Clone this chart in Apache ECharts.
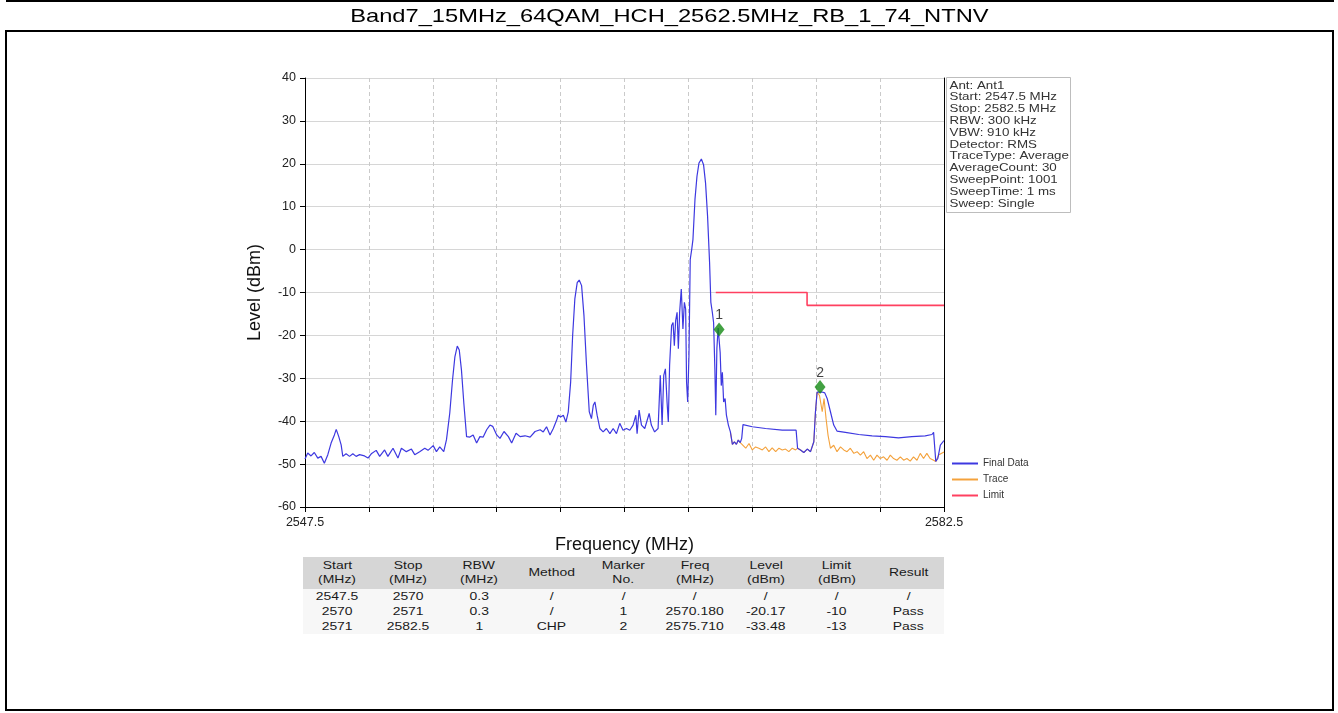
<!DOCTYPE html>
<html>
<head>
<meta charset="utf-8">
<script src="https://cdn.jsdelivr.net/npm/echarts@6/dist/echarts.min.js"></script>
<style>
  html,body{margin:0;padding:0;background:#fff;width:1338px;height:713px;overflow:hidden;font-family:"Liberation Sans",Arial,sans-serif;}
  #chart{position:absolute;left:0;top:0;width:1338px;height:713px;z-index:0;}
  .ln{position:absolute;background:#000;z-index:2;}
  #title{position:absolute;left:0;top:5px;width:1338px;text-align:center;font-size:18.5px;color:#000;z-index:2;line-height:22px;}
  #title span{display:inline-block;transform:scaleX(1.28);transform-origin:center;}
  #tbl{position:absolute;left:303px;top:557px;width:641px;z-index:2;color:#1a1a1a;font-size:11.8px;}
  #tbl .row{position:relative;width:641px;}
  #tbl .cell{position:absolute;top:0;text-align:center;white-space:nowrap;}
  #tbl .cell span{display:inline-block;transform:scaleX(1.18);transform-origin:center;}
</style>
</head>
<body>
<div id="chart"></div>
<div class="ln" style="left:6px;top:0px;width:1328px;height:2px;"></div>
<div class="ln" style="left:6px;top:30px;width:1328px;height:1.5px;"></div>
<div class="ln" style="left:5px;top:30px;width:2px;height:681px;"></div>
<div class="ln" style="left:1332px;top:30px;width:2px;height:681px;"></div>
<div class="ln" style="left:5px;top:709px;width:1329px;height:2px;"></div>
<div id="title"><span>Band7_15MHz_64QAM_HCH_2562.5MHz_RB_1_74_NTNV</span></div>
<div id="tbl"></div>
<script>
// ---------- data ----------
const finalFreq = [
2547.50,2547.65,2547.83,2548.01,2548.20,2548.38,2548.56,2548.75,2548.93,2549.11,
2549.21,2549.35,2549.48,2549.57,2549.75,2549.94,2550.12,2550.30,2550.49,2550.76,
2550.95,2551.13,2551.40,2551.59,2551.86,2552.04,2552.32,2552.59,2552.78,2553.05,
2553.33,2553.51,2553.78,2554.06,2554.24,2554.52,2554.70,2554.88,2555.10,2555.25,
2555.43,2555.58,2555.71,2555.84,2555.95,2556.07,2556.20,2556.35,2556.53,2556.71,
2556.90,2557.08,2557.26,2557.45,2557.63,2557.78,2558.00,2558.18,2558.40,2558.64,
2558.82,2559.06,2559.28,2559.55,2559.83,2560.10,2560.38,2560.55,2560.73,2560.92,
2561.10,2561.28,2561.37,2561.50,2561.65,2561.79,2561.92,2562.05,2562.16,2562.28,
2562.41,2562.52,2562.65,2562.78,2562.92,2563.07,2563.19,2563.29,2563.38,2563.50,
2563.65,2563.83,2564.01,2564.20,2564.38,2564.56,2564.74,2564.92,2565.11,2565.29,
2565.47,2565.62,2565.69,2565.80,2565.93,2566.11,2566.35,2566.47,2566.65,2566.84,
2566.96,2567.06,2567.15,2567.24,2567.33,2567.40,2567.47,2567.58,2567.66,2567.73,
2567.80,2567.88,2567.95,2568.02,2568.11,2568.20,2568.28,2568.35,2568.40,2568.46,
2568.53,2568.60,2568.68,2568.75,2568.86,2568.97,2569.08,2569.21,2569.33,2569.44,
2569.55,2569.66,2569.73,2569.81,2569.88,2569.95,2570.00,2570.06,2570.13,2570.18,
2570.24,2570.30,2570.36,2570.43,2570.51,2570.58,2570.69,2570.80,2570.91,2571.02,
2571.13,2571.23,2571.34,2571.42,2571.49,2572.00,2572.73,2573.64,2574.40,2574.48,
2574.64,2574.82,2575.01,2575.19,2575.37,2575.46,2575.55,2575.64,2575.83,2575.97,
2576.10,2576.28,2576.46,2576.64,2577.10,2577.83,2578.56,2579.29,2580.01,2580.74,
2581.47,2581.84,2581.93,2582.05,2582.16,2582.30,2582.50
];
const finalLevel = [
-48.8,-47.4,-48.1,-47.3,-48.6,-48.2,-49.8,-47.8,-45.1,-43.2,
-41.9,-43.6,-45.5,-48.2,-47.6,-48.2,-47.6,-48.2,-47.8,-48.1,
-48.6,-47.6,-46.8,-48.2,-46.7,-48.2,-46.3,-48.6,-46.3,-47.1,
-46.5,-47.8,-47.1,-46.3,-46.8,-45.7,-47.1,-46.0,-47.1,-44.3,
-38.1,-30.4,-25.0,-22.5,-23.4,-28.1,-35.8,-43.6,-43.7,-43.2,
-45.1,-43.6,-43.7,-42.0,-40.9,-41.2,-43.2,-44.0,-42.4,-43.6,
-45.1,-42.8,-43.6,-43.4,-43.7,-42.4,-42.0,-42.5,-41.3,-43.2,
-41.7,-39.8,-38.6,-39.0,-38.6,-40.2,-37.8,-30.9,-20.0,-11.5,
-7.7,-7.1,-8.4,-15.4,-27.0,-37.8,-39.4,-36.3,-35.5,-38.6,
-41.7,-42.5,-41.7,-42.9,-41.7,-42.9,-40.5,-42.1,-41.7,-42.1,
-40.9,-38.6,-42.9,-37.4,-40.9,-41.7,-38.2,-40.9,-42.5,-41.7,
-29.3,-40.9,-29.3,-27.8,-35.5,-40.2,-27.0,-17.7,-17.0,-22.4,
-16.6,-14.6,-23.1,-14.6,-9.2,-18.5,-12.3,-13.9,-30.9,-35.5,
-24.7,-2.3,0.0,2.4,11.7,17.1,20.2,21.1,19.8,15.5,
7.8,-3.0,-12.3,-14.6,-17.0,-27.8,-38.6,-23.0,-18.3,-18.6,
-24.0,-31.7,-28.6,-35.5,-34.7,-38.5,-40.9,-42.5,-45.4,-44.8,
-45.4,-44.4,-45.0,-44.0,-40.8,-41.3,-41.7,-42.1,-42.1,-46.3,
-46.7,-47.3,-46.5,-47.1,-44.8,-37.8,-33.2,-33.2,-33.2,-33.4,
-34.7,-37.8,-40.9,-42.3,-42.6,-43.1,-43.4,-43.6,-43.9,-43.6,
-43.4,-43.1,-42.6,-49.4,-48.7,-45.6,-44.5
];
const traceFreq = [
2570.80,2570.91,2571.02,2571.13,2571.23,2571.34,2571.42,2571.64,2571.82,2572.00,
2572.18,2572.36,2572.55,2572.73,2572.91,2573.09,2573.28,2573.46,2573.64,2573.82,
2574.00,2574.19,2574.37,2574.48,2574.64,2574.82,2575.01,2575.19,2575.37,2575.46,
2575.55,2575.68,2575.83,2575.93,2576.04,2576.15,2576.28,2576.46,2576.64,2576.83,
2577.01,2577.19,2577.37,2577.56,2577.74,2577.92,2578.10,2578.28,2578.47,2578.65,
2578.83,2579.01,2579.19,2579.38,2579.56,2579.74,2579.92,2580.11,2580.29,2580.47,
2580.65,2580.83,2581.02,2581.20,2581.38,2581.56,2581.74,2581.93,2582.05,2582.20,
2582.50
];
const traceLevel = [
-42.5,-45.4,-44.8,-45.4,-44.4,-45.0,-44.8,-46.3,-45.2,-46.7,
-46.0,-46.3,-46.7,-46.0,-47.1,-46.2,-47.1,-46.3,-46.7,-46.5,
-47.1,-46.3,-46.7,-46.3,-46.7,-47.3,-46.5,-47.1,-44.8,-37.8,
-33.2,-34.0,-37.8,-34.7,-39.4,-43.3,-46.3,-45.6,-47.1,-46.0,
-46.7,-47.1,-46.3,-47.5,-47.1,-47.9,-47.1,-48.7,-47.9,-49.1,
-47.9,-48.7,-48.3,-49.1,-47.9,-48.7,-49.1,-48.3,-49.1,-48.7,
-49.3,-48.3,-49.1,-47.5,-48.7,-47.5,-48.7,-49.1,-49.4,-47.9,
-47.2
];
const limitFreq = [2570.0, 2575.0, 2575.0, 2582.5];
const limitLevel = [-10, -10, -13, -13];
const markerFreq = [2570.18, 2575.71];
const markerLevel = [-18.6, -32.0];
const markerLabel = ['1', '2'];
const xTickValues = [2547.5, 2551, 2554.5, 2558, 2561.5, 2565, 2568.5, 2572, 2575.5, 2579, 2582.5];
const xLabelValues = [2547.5, 2582.5];
const yTickValues = [-60, -50, -40, -30, -20, -10, 0, 10, 20, 30, 40];
const infoLines = ['Ant: Ant1','Start: 2547.5 MHz','Stop: 2582.5 MHz','RBW: 300 kHz','VBW: 910 kHz','Detector: RMS','TraceType: Average','AverageCount: 30','SweepPoint: 1001','SweepTime: 1 ms','Sweep: Single'];
const tableHeader = [['Start','(MHz)'],['Stop','(MHz)'],['RBW','(MHz)'],['Method'],['Marker','No.'],['Freq','(MHz)'],['Level','(dBm)'],['Limit','(dBm)'],['Result']];
const tableRows = [
  ['2547.5','2570','0.3','/','/','/','/','/','/'],
  ['2570','2571','0.3','/','1','2570.180','-20.17','-10','Pass'],
  ['2571','2582.5','1','CHP','2','2575.710','-33.48','-13','Pass']
];

// ---------- table (HTML) ----------
const colW = [69, 71.5, 71, 73.5, 71, 71.5, 70.5, 71.5, 71.5];
(function buildTable(){
  const tbl = document.getElementById('tbl');
  const head = document.createElement('div');
  head.className = 'row';
  head.style.height = '32px';
  head.style.background = '#d6d6d6';
  let x = 0;
  tableHeader.forEach((h, i) => {
    const c = document.createElement('div');
    c.className = 'cell';
    c.style.left = x + 'px';
    c.style.width = colW[i] + 'px';
    c.style.lineHeight = '14px';
    c.style.top = (h.length === 2 ? 1 : 8) + 'px';
    c.innerHTML = h.map(t => '<span>' + t + '</span>').join('<br>');
    head.appendChild(c);
    x += colW[i];
  });
  tbl.appendChild(head);
  tableRows.forEach(r => {
    const row = document.createElement('div');
    row.className = 'row';
    row.style.height = '15px';
    row.style.background = '#f7f7f7';
    let xx = 0;
    r.forEach((t, i) => {
      const c = document.createElement('div');
      c.className = 'cell';
      c.style.left = xx + 'px';
      c.style.width = colW[i] + 'px';
      c.style.lineHeight = '14px';
      c.innerHTML = '<span>' + t + '</span>';
      row.appendChild(c);
      xx += colW[i];
    });
    tbl.appendChild(row);
  });
})();

// ---------- chart ----------
const zip = (a, b) => a.map((v, i) => [v, b[i]]);
const chart = echarts.init(document.getElementById('chart'), null, {renderer: 'canvas'});
const FONT = '"Liberation Sans", Arial, sans-serif';
chart.setOption({
  animation: false,
  backgroundColor: 'transparent',
  textStyle: {fontFamily: FONT},
  grid: {left: 305, right: 394, top: 78, bottom: 206, containLabel: false},
  legend: {
    data: ['Final Data', 'Trace', 'Limit'],
    orient: 'vertical',
    left: 952, top: 458,
    itemWidth: 26, itemHeight: 2, itemGap: 5,
    icon: 'rect',
    textStyle: {fontSize: 10, color: '#333', lineHeight: 11, fontFamily: FONT},
    padding: 0
  },
  xAxis: {
    type: 'value', min: 2547.5, max: 2582.5,
    name: 'Frequency (MHz)', nameLocation: 'middle', nameGap: 29,
    nameTextStyle: {fontSize: 18, color: '#111', fontFamily: FONT},
    axisLine: {onZero: false, lineStyle: {color: '#000', width: 1}},
    axisTick: {show: true, inside: false, length: 5, customValues: xTickValues, lineStyle: {color: '#000'}},
    axisLabel: {customValues: xLabelValues, fontSize: 12.5, color: '#222', margin: 9, fontFamily: FONT,
      formatter: v => String(v)},
    splitLine: {show: true, lineStyle: {color: '#cacaca', type: [4, 3], width: 1}}
  },
  yAxis: [{
    type: 'value', min: -60, max: 40, interval: 10,
    name: 'Level (dBm)', nameLocation: 'middle', nameGap: 41, nameRotate: 90,
    nameTextStyle: {fontSize: 18, color: '#111', fontFamily: FONT},
    axisLine: {show: true, onZero: false, lineStyle: {color: '#000', width: 1}},
    axisTick: {show: true, inside: false, length: 5, lineStyle: {color: '#000'}},
    axisLabel: {fontSize: 12.5, color: '#222', margin: 9, fontFamily: FONT},
    splitLine: {show: true, lineStyle: {color: '#d6d6d6', type: 'solid', width: 1}}
  }, {
    type: 'value', min: -60, max: 40, interval: 10, position: 'right',
    axisLine: {show: true, onZero: false, lineStyle: {color: '#000', width: 1}},
    axisTick: {show: false}, axisLabel: {show: false}, splitLine: {show: false}
  }],
  series: [
    {name: 'Trace', type: 'line', data: zip(traceFreq, traceLevel), showSymbol: false,
     lineStyle: {color: '#f4a23c', width: 1.1}, itemStyle: {color: '#f4a23c'}, z: 2},
    {name: 'Final Data', type: 'line', data: zip(finalFreq, finalLevel), showSymbol: false,
     lineStyle: {color: '#3d38e0', width: 1.2}, itemStyle: {color: '#3d38e0'}, z: 3},
    {name: 'Limit', type: 'line', data: zip(limitFreq, limitLevel), showSymbol: false,
     lineStyle: {color: '#ff4060', width: 1.6}, itemStyle: {color: '#ff4060'}, z: 2},
    {name: 'Markers', type: 'scatter', data: zip(markerFreq, markerLevel),
     symbol: 'diamond', symbolSize: [11, 14], itemStyle: {color: '#138a13'}, z: 5,
     label: {show: true, position: 'top', distance: 0, fontSize: 14, color: '#111', fontFamily: FONT,
       formatter: p => markerLabel[p.dataIndex]}}
  ],
  graphic: [{
    type: 'group', left: 946, top: 77,
    children: [
      {type: 'rect', shape: {x: 0, y: 0, width: 124, height: 135},
       style: {fill: '#fff', stroke: '#bdbdbd', lineWidth: 1}},
      {type: 'text', x: 3, y: 2, scaleX: 1.16,
       style: {text: infoLines.join('\n'), font: '11.5px "Liberation Sans", Arial, sans-serif', lineHeight: 11.8, fill: '#333'}}
    ]
  }]
});
</script>
</body>
</html>
